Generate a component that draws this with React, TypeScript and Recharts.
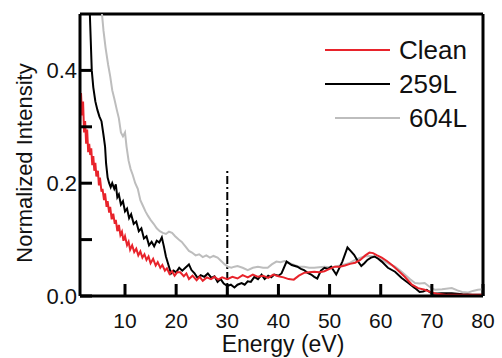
import React from 'react';
import { LineChart, Line, XAxis, YAxis, ReferenceLine, Legend } from 'recharts';

// Clean surface
const cleanEnergy = [
  1.2, 1.4, 1.6, 1.8, 2.0, 2.2, 2.4, 2.6, 2.8, 3.0, 3.2, 3.4, 3.6, 3.8, 4.0, 4.2, 4.4, 4.7, 4.9, 5.1,
  5.4, 5.6, 5.9, 6.1, 6.4, 6.6, 6.9, 7.1, 7.4, 7.7, 8.0, 8.2, 8.5, 8.8, 9.1, 9.4, 9.7, 10.0, 10.4, 10.7,
  11.0, 11.4, 11.8, 12.2, 12.6, 13.0, 13.4, 13.8, 14.2, 14.6, 15.0, 15.5, 16.0, 16.4, 16.9, 17.3, 17.8,
  18.2, 18.7, 19.2, 19.7, 20.2, 20.8, 21.5, 22.0, 22.5, 23.2, 24.0, 24.6, 25.2, 26.0, 26.8, 27.5, 28.2,
  29.0, 30.0, 31.0, 32.0, 33.0, 34.0, 35.0, 36.0, 37.0, 38.0, 39.0, 40.0, 41.0, 42.0, 43.0, 44.0, 45.0,
  46.0, 47.0, 48.0, 49.0, 50.0, 51.0, 52.0, 53.0, 54.0, 55.0, 56.0, 57.0, 57.8, 58.5, 59.3, 60.2, 61.2,
  62.2, 63.3, 64.7, 66.1, 67.3, 68.6, 70.0, 71.0, 73.0, 76.0, 80.0,
];
const cleanIntensity = [
  0.3, 0.36, 0.32, 0.345, 0.29, 0.31, 0.27, 0.295, 0.255, 0.27, 0.25, 0.262, 0.232, 0.248, 0.222, 0.236,
  0.212, 0.222, 0.196, 0.21, 0.185, 0.19, 0.17, 0.182, 0.158, 0.168, 0.148, 0.158, 0.136, 0.146, 0.128,
  0.135, 0.115, 0.126, 0.108, 0.114, 0.098, 0.106, 0.09, 0.096, 0.082, 0.09, 0.078, 0.084, 0.072, 0.079,
  0.068, 0.074, 0.064, 0.07, 0.058, 0.066, 0.054, 0.06, 0.05, 0.055, 0.045, 0.049, 0.039, 0.044, 0.036,
  0.042, 0.042, 0.035, 0.04, 0.03, 0.036, 0.028, 0.034, 0.027, 0.033, 0.03, 0.034, 0.029, 0.033, 0.03,
  0.034, 0.031, 0.037, 0.033, 0.038, 0.034, 0.036, 0.032, 0.038, 0.035, 0.033, 0.03, 0.029, 0.036,
  0.041, 0.042, 0.043, 0.042, 0.044, 0.048, 0.052, 0.052, 0.054, 0.057, 0.059, 0.064, 0.072, 0.077,
  0.076, 0.072, 0.068, 0.062, 0.055, 0.046, 0.034, 0.02, 0.014, 0.011, 0.006, 0.004, 0.002, 0.002, 0.002,
];

// 259 L exposure
const l259Energy = [
  2.9, 3.2, 3.5, 3.8, 4.2, 4.6, 5.0, 5.4, 5.8, 6.1, 6.3, 6.6, 6.9, 7.2, 7.5, 7.9, 8.2, 8.5, 8.8, 9.2,
  9.6, 10.0, 10.4, 10.8, 11.2, 11.7, 12.2, 12.7, 13.2, 13.7, 14.2, 14.7, 15.2, 15.7, 16.2, 16.7, 17.2,
  17.6, 18.0, 18.5, 19.0, 19.5, 20.0, 20.6, 21.2, 21.8, 22.5, 23.0, 23.6, 24.2, 24.8, 25.5, 26.2, 26.9,
  27.5, 28.1, 28.7, 29.3, 30.0, 30.7, 31.4, 32.0, 32.8, 33.4, 34.0, 34.6, 35.3, 36.0, 36.7, 37.3, 38.0,
  38.6, 39.2, 40.0, 40.6, 41.6, 42.6, 43.7, 44.4, 45.0, 45.7, 46.4, 47.0, 47.6, 48.3, 49.0, 49.7, 50.3,
  51.3, 52.5, 53.5, 54.2, 54.8, 55.5, 56.2, 56.8, 57.4, 58.1, 58.8, 59.5, 60.2, 61.4, 62.8, 64.1, 65.4,
  66.7, 67.6, 68.3, 69.0, 69.6, 70.2, 71.9, 73.9, 76.0, 78.0, 80.0,
];
const l259Intensity = [
  0.56, 0.48, 0.4, 0.37, 0.345, 0.33, 0.318, 0.31, 0.285, 0.265, 0.235, 0.21, 0.2, 0.193, 0.2, 0.19,
  0.198, 0.175, 0.18, 0.162, 0.168, 0.15, 0.155, 0.138, 0.145, 0.128, 0.132, 0.115, 0.12, 0.102, 0.106,
  0.09, 0.096, 0.088, 0.098, 0.095, 0.104, 0.088, 0.07, 0.055, 0.04, 0.045, 0.042, 0.05, 0.045, 0.05,
  0.056, 0.046, 0.04, 0.032, 0.037, 0.034, 0.04, 0.032, 0.035, 0.025, 0.03, 0.022, 0.018, 0.02, 0.015,
  0.02, 0.023, 0.02, 0.026, 0.025, 0.034, 0.03, 0.038, 0.03, 0.036, 0.033, 0.038, 0.036, 0.04, 0.061,
  0.055, 0.052, 0.048, 0.046, 0.041, 0.038, 0.034, 0.031, 0.045, 0.05, 0.048, 0.052, 0.038, 0.061,
  0.086, 0.079, 0.073, 0.062, 0.053, 0.058, 0.064, 0.068, 0.07, 0.066, 0.061, 0.05, 0.043, 0.032, 0.023,
  0.014, 0.007, 0.008, 0.011, 0.007, 0.004, 0.005, 0.005, 0.003, 0.002, 0.002,
];

// 604 L exposure
const l604Energy = [
  5.3, 5.8, 6.2, 6.7, 7.1, 7.5, 7.9, 8.4, 8.8, 9.2, 9.6, 10.0, 10.3, 10.7, 11.1, 11.5, 12.0, 12.5, 13.0,
  13.5, 14.0, 14.5, 15.0, 15.6, 16.2, 16.8, 17.4, 18.0, 18.6, 19.2, 19.8, 20.5, 21.1, 21.8, 22.5, 23.1,
  23.8, 24.5, 25.2, 25.9, 26.6, 27.3, 28.1, 28.8, 29.5, 30.1, 30.8, 31.4, 32.0, 33.0, 34.0, 35.0, 36.0,
  37.0, 37.9, 38.7, 39.6, 40.4, 41.2, 42.2, 43.1, 44.0, 45.0, 46.0, 47.0, 48.0, 49.0, 50.0, 51.0, 52.0,
  52.9, 53.8, 54.8, 55.8, 56.8, 57.8, 58.8, 59.8, 60.8, 61.8, 62.8, 63.8, 64.7, 65.7, 66.7, 67.6, 68.6,
  69.6, 70.6, 72.0, 73.9, 75.0, 75.9, 77.0, 78.0, 79.0, 80.0,
];
const l604Intensity = [
  0.52, 0.47, 0.44, 0.41, 0.39, 0.365, 0.35, 0.33, 0.315, 0.29, 0.283, 0.29, 0.265, 0.24, 0.225, 0.215,
  0.2, 0.19, 0.17, 0.16, 0.15, 0.142, 0.135, 0.128, 0.12, 0.115, 0.112, 0.11, 0.114, 0.112, 0.106, 0.1,
  0.096, 0.088, 0.08, 0.077, 0.072, 0.074, 0.069, 0.072, 0.068, 0.071, 0.068, 0.062, 0.056, 0.052, 0.05,
  0.052, 0.053, 0.05, 0.046, 0.05, 0.052, 0.05, 0.05, 0.056, 0.061, 0.06, 0.062, 0.058, 0.055, 0.052,
  0.052, 0.05, 0.05, 0.051, 0.052, 0.051, 0.052, 0.054, 0.056, 0.058, 0.063, 0.067, 0.07, 0.071, 0.07,
  0.066, 0.061, 0.056, 0.052, 0.045, 0.038, 0.03, 0.023, 0.022, 0.023, 0.016, 0.011, 0.012, 0.014, 0.01,
  0.007, 0.006, 0.009, 0.011, 0.012,
];

const xDomain = [1.2, 80];
const yDomain = [0, 0.5];
const xTicks = [10, 20, 30, 40, 50, 60, 70, 80];
const yTicks = [0, 0.1, 0.2, 0.3, 0.4];
const yLabelled = [0, 0.2, 0.4];

// dash-dot marker at 30 eV
const markerEnergy = 30;
const markerTop = 0.225;

const FONT = "'Liberation Sans', Arial, Helvetica, sans-serif";
const INK = '#111';
const FRAME = { stroke: '#000', strokeWidth: 3 };

const toPoints = (xs: number[], ys: number[]) => xs.map((e, i) => ({ e, v: ys[i] }));

const series = [
  { name: 'Clean', color: '#e8232b', data: toPoints(cleanEnergy, cleanIntensity), indent: 0 },
  { name: '259L', color: '#000000', data: toPoints(l259Energy, l259Intensity), indent: 0 },
  { name: '604L', color: '#bdbdbd', data: toPoints(l604Energy, l604Intensity), indent: 10 },
];

const renderLegend = () => (
  <div style={{ fontFamily: FONT, fontSize: 26, color: INK }}>
    {series.map((s) => (
      <div key={s.name} style={{ display: 'flex', alignItems: 'center', height: 34, lineHeight: '34px' }}>
        <svg width={74 + s.indent} height={34} style={{ display: 'block' }}>
          <line x1={s.indent} x2={65 + s.indent} y1={17} y2={17} stroke={s.color} strokeWidth={2} />
        </svg>
        <span>{s.name}</span>
      </div>
    ))}
  </div>
);

const titleStyle: React.CSSProperties = {
  position: 'absolute',
  fontFamily: FONT,
  color: INK,
  lineHeight: 1,
  whiteSpace: 'nowrap',
};

export default function App() {
  return (
    <div style={{ position: 'absolute', left: 0, top: 0, width: 502, height: 358, background: '#fff' }}>
      <LineChart width={502} height={358} margin={{ top: 14, right: 19, left: 0, bottom: 32 }}>
        <XAxis
          dataKey="e"
          type="number"
          domain={xDomain}
          allowDataOverflow
          ticks={xTicks}
          tickSize={-12}
          tickMargin={12}
          tickLine={FRAME}
          tick={{ fontSize: 21, fill: INK, fontFamily: FONT, dy: 17 }}
          axisLine={FRAME}
          height={30}
        />
        <YAxis
          type="number"
          domain={yDomain}
          allowDataOverflow
          ticks={yTicks}
          tickFormatter={(v: number) => (yLabelled.includes(v) ? v.toFixed(1) : '')}
          tickSize={-12}
          tickMargin={15}
          tickLine={FRAME}
          tick={{ fontSize: 22, fill: INK, fontFamily: FONT }}
          axisLine={FRAME}
          width={80}
        />
        {/* top and right edges of the frame */}
        <ReferenceLine y={yDomain[1]} stroke="#000" strokeWidth={3} />
        <ReferenceLine x={xDomain[1]} stroke="#000" strokeWidth={3} />
        <ReferenceLine
          segment={[
            { x: markerEnergy, y: 0 },
            { x: markerEnergy, y: markerTop },
          ]}
          stroke="#000"
          strokeWidth={2}
          strokeDasharray="8 3 2 3"
        />
        {[...series].reverse().map((s) => (
          <Line
            key={s.name}
            data={s.data}
            dataKey="v"
            name={s.name}
            type="linear"
            stroke={s.color}
            strokeWidth={2}
            dot={false}
            isAnimationActive={false}
          />
        ))}
        <Legend
          layout="horizontal"
          verticalAlign="middle"
          align="center"
          content={renderLegend}
          wrapperStyle={{ position: 'absolute', top: 33, left: 325, width: 160, height: 'auto' }}
        />
      </LineChart>
      <div style={{ ...titleStyle, fontSize: 23, left: 283, top: 333, transform: 'translateX(-50%)' }}>
        Energy (eV)
      </div>
      <div
        style={{
          ...titleStyle,
          fontSize: 22,
          left: 25,
          top: 163,
          transform: 'translate(-50%, -50%) rotate(-90deg)',
        }}
      >
        Normalized Intensity
      </div>
    </div>
  );
}
